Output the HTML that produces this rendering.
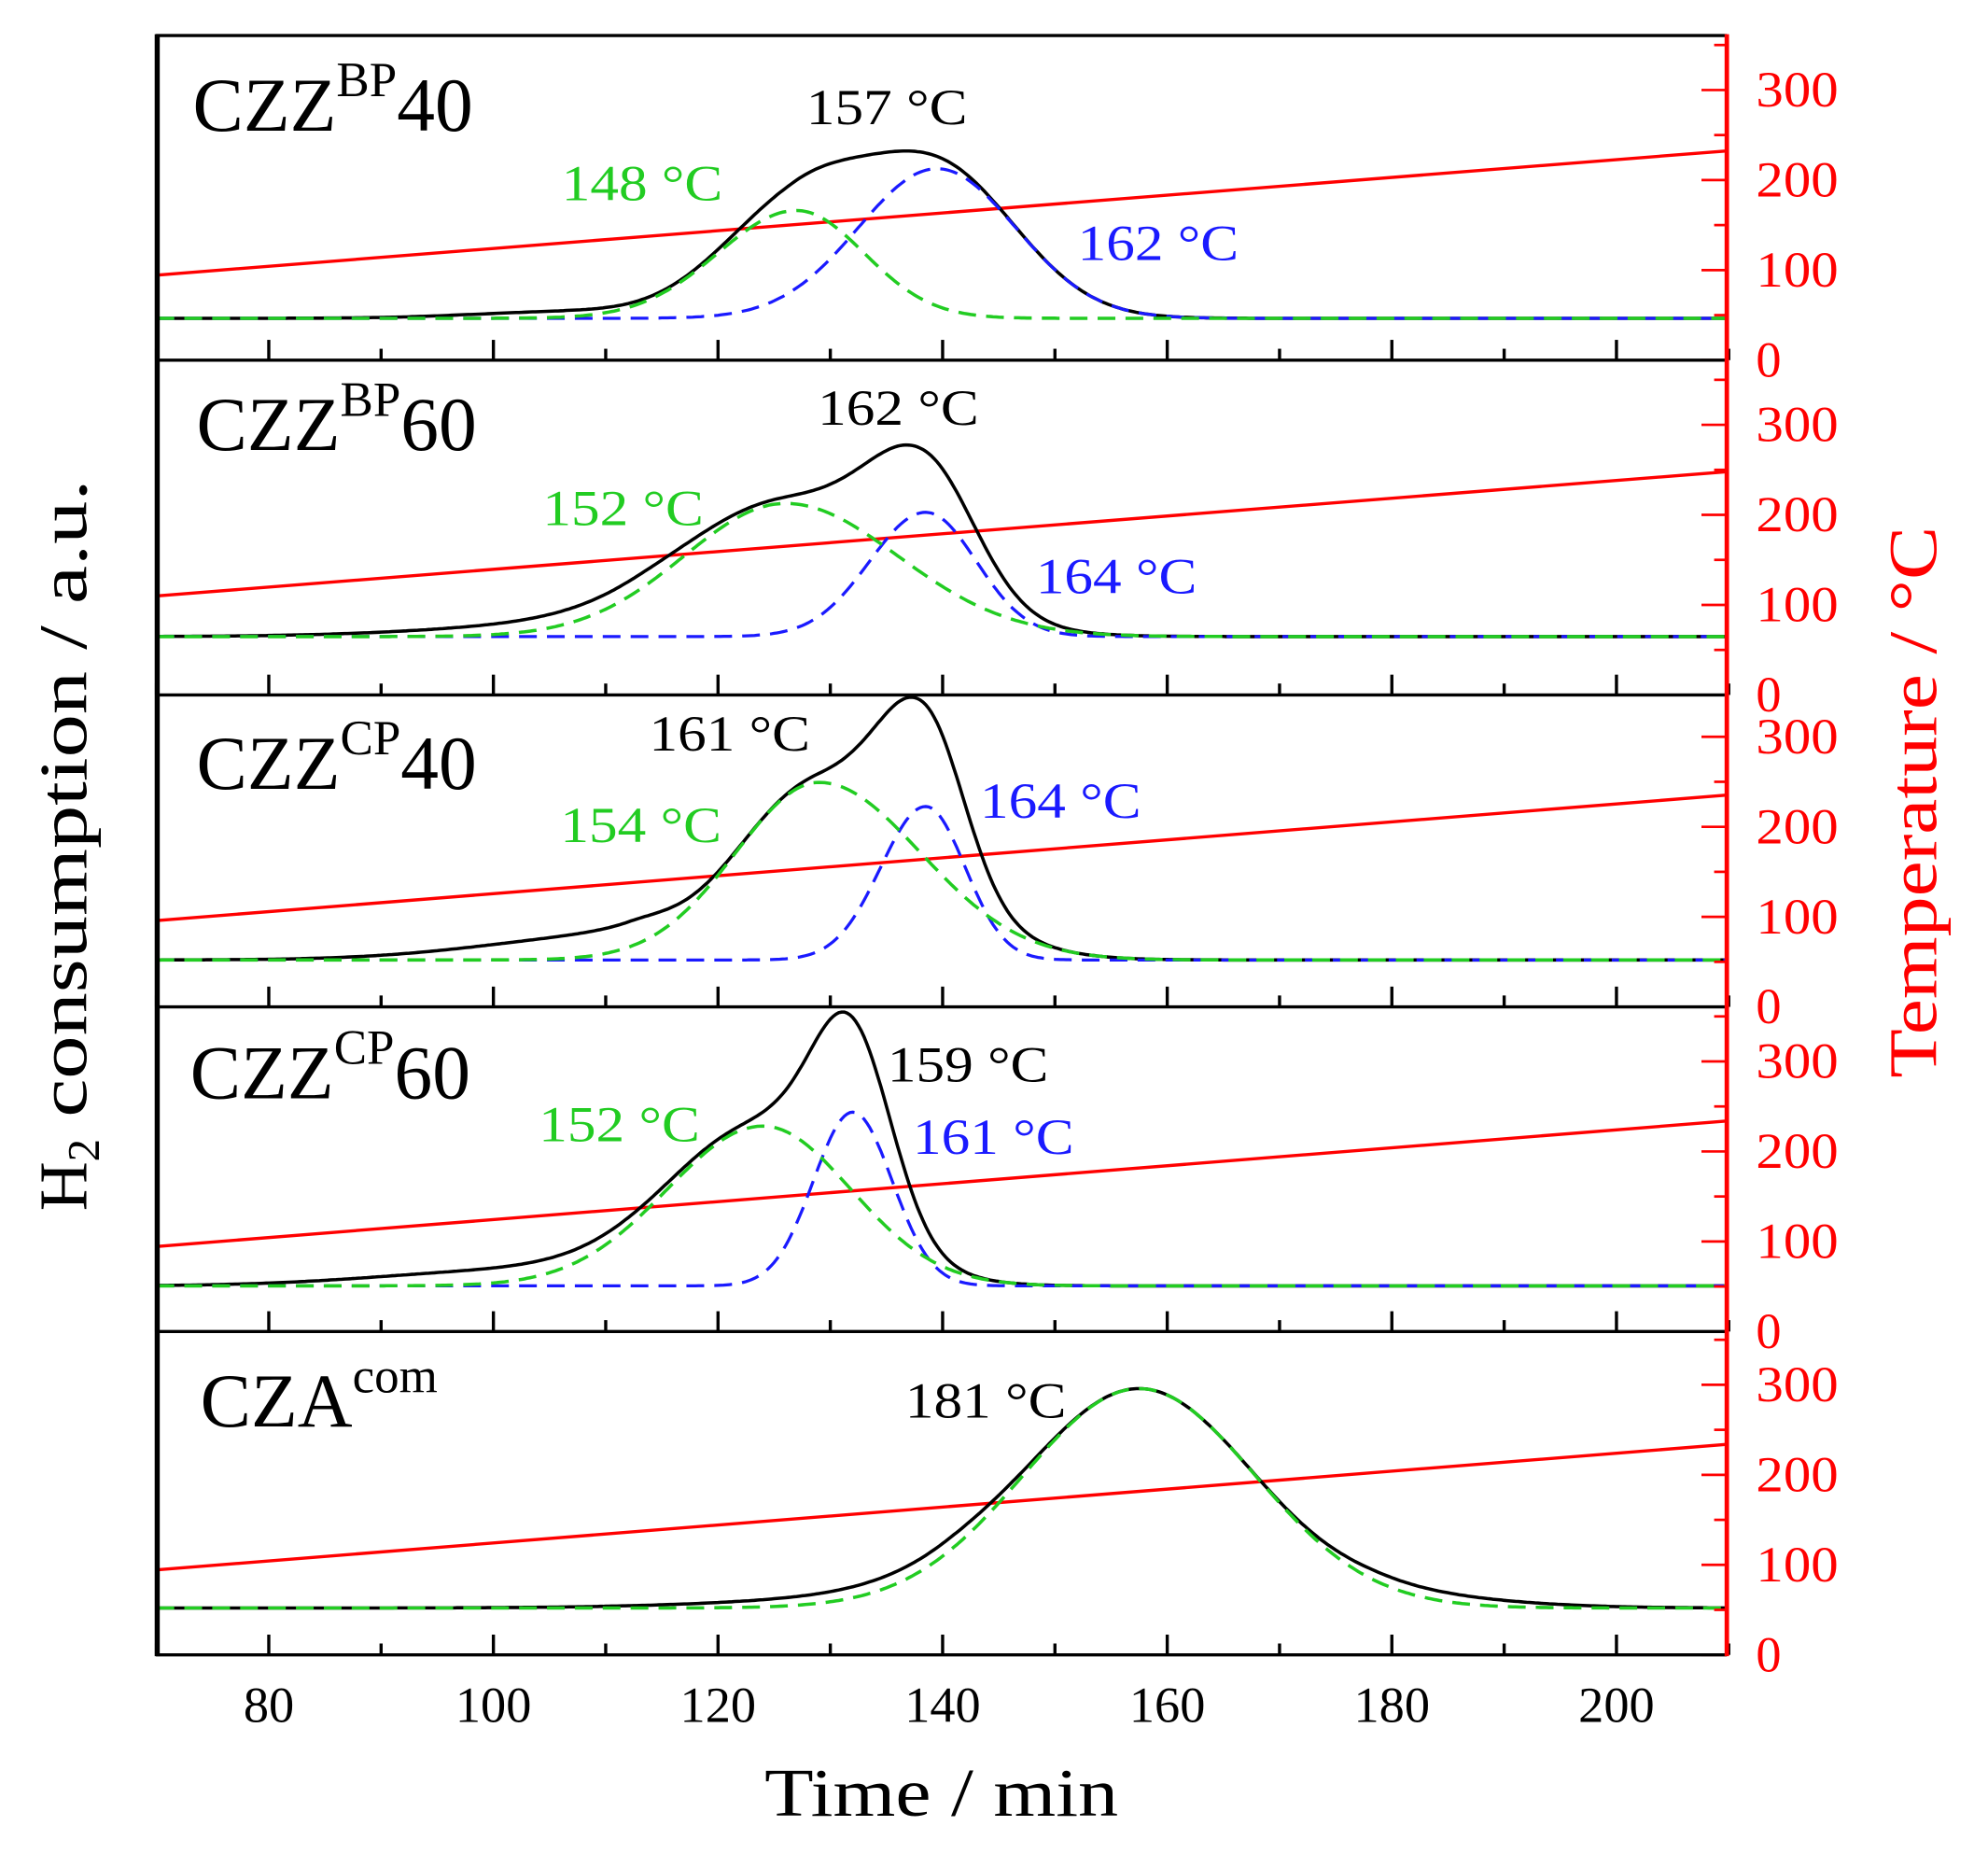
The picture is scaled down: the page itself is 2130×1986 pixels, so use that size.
<!DOCTYPE html>
<html><head><meta charset="utf-8"><style>
html,body{margin:0;padding:0;background:#fff;}
svg{display:block;}
text{font-family:"Liberation Serif","DejaVu Serif",serif;}
</style></head><body>
<svg id="s" xmlns="http://www.w3.org/2000/svg" width="2130" height="1986" viewBox="0 0 1568 1462" preserveAspectRatio="none">
<rect width="1568" height="1462" fill="#fff"/>
<g id="curves"></g>
<g id="axes"></g>
<g font-size="60" fill="#000">
<text x="152" y="103">CZZ<tspan font-size="39" dy="-27">BP</tspan><tspan dy="27">40</tspan></text>
<text x="155" y="355">CZZ<tspan font-size="39" dy="-27">BP</tspan><tspan dy="27">60</tspan></text>
<text x="155" y="622">CZZ<tspan font-size="39" dy="-27">CP</tspan><tspan dy="27">40</tspan></text>
<text x="150" y="866">CZZ<tspan font-size="39" dy="-27">CP</tspan><tspan dy="27">60</tspan></text>
<text x="158" y="1125">CZA<tspan font-size="39" dy="-27">com</tspan></text>
</g>
<g font-size="40">
<text x="636" y="98" fill="#000" textLength="127" lengthAdjust="spacingAndGlyphs">157 °C</text>
<text x="443" y="158" fill="#22cc22" textLength="127" lengthAdjust="spacingAndGlyphs">148 °C</text>
<text x="850" y="205" fill="#1a1aff" textLength="127" lengthAdjust="spacingAndGlyphs">162 °C</text>
<text x="645" y="335" fill="#000" textLength="127" lengthAdjust="spacingAndGlyphs">162 °C</text>
<text x="428" y="414" fill="#22cc22" textLength="127" lengthAdjust="spacingAndGlyphs">152 °C</text>
<text x="817" y="468" fill="#1a1aff" textLength="127" lengthAdjust="spacingAndGlyphs">164 °C</text>
<text x="512" y="592" fill="#000" textLength="127" lengthAdjust="spacingAndGlyphs">161 °C</text>
<text x="442" y="664" fill="#22cc22" textLength="127" lengthAdjust="spacingAndGlyphs">154 °C</text>
<text x="773" y="645" fill="#1a1aff" textLength="127" lengthAdjust="spacingAndGlyphs">164 °C</text>
<text x="700" y="853" fill="#000" textLength="127" lengthAdjust="spacingAndGlyphs">159 °C</text>
<text x="425" y="900" fill="#22cc22" textLength="127" lengthAdjust="spacingAndGlyphs">152 °C</text>
<text x="720" y="910" fill="#1a1aff" textLength="127" lengthAdjust="spacingAndGlyphs">161 °C</text>
<text x="714" y="1118" fill="#000" textLength="127" lengthAdjust="spacingAndGlyphs">181 °C</text>
</g>
<g id="labels" font-size="40"></g>
<text x="603" y="1432" font-size="54" textLength="279" lengthAdjust="spacingAndGlyphs">Time / min</text>
<text transform="translate(68,955) rotate(-90)" font-size="54">H<tspan font-size="36" dy="10">2</tspan><tspan dy="-10" textLength="520" lengthAdjust="spacingAndGlyphs"> consumption / a.u.</tspan></text>
<text transform="translate(1527,850) rotate(-90)" font-size="54" fill="#ff0000" textLength="435" lengthAdjust="spacingAndGlyphs">Temperature / °C</text>
</svg>
<script>
var NS="http://www.w3.org/2000/svg";
function X(t){return 212+(t-80)*8.858;}
function G(t,p){var mu=p[0],a=p[1],s=t<mu?p[2]:p[3];var z=(t-mu)/s;return a*Math.exp(-z*z/2);}
var panels=[
 {top:28,bot:284,base:251,g:[[127,85,7,6]],b:[139.5,118,7,7],tail:[[106,5,8,6]],r:[217,119]},
 {top:284,bot:548,base:502,g:[[126,105,9,10]],b:[138.5,98,5,4.5],tail:[[112,12,14,6]],r:[470,372]},
 {top:548,bot:794,base:757,g:[[129,140,7.4,9]],b:[138.5,121,4,3.5],tail:[[112,20,12,4]],r:[726,627]},
 {top:794,bot:1050,base:1014,g:[[124,126,8.5,7.8]],b:[132,137,3.5,3.5],tail:[[102,12,12,10]],r:[983,884]},
 {top:1050,bot:1305,base:1268,g:[[157.5,173,10.3,10.3]],b:null,tail:[[140,10,15,5],[180,8,5,10]],r:[1238,1139]}
];
var cg=document.getElementById('curves'),ax=document.getElementById('axes'),lb=document.getElementById('labels');
function el(par,tag,at){var e=document.createElementNS(NS,tag);for(var k in at)e.setAttribute(k,at[k]);par.appendChild(e);return e;}
panels.forEach(function(P){
 el(cg,'line',{x1:123,y1:P.r[0],x2:1362,y2:P.r[1],stroke:'#ff0000','stroke-width':2.5});
 var dg='',db='',dk='';
 for(var t=70;t<=210.01;t+=0.25){
  var gv=0;P.g.forEach(function(q){gv+=G(t,q);});
  var bv=P.b?G(t,P.b):0;var tv=0;P.tail.forEach(function(q){tv+=G(t,q);});
  var x=X(t).toFixed(1);
  var c=(t==70?'M':'L');
  dg+=c+x+' '+(P.base-gv).toFixed(1);
  db+=c+x+' '+(P.base-bv).toFixed(1);
  dk+=c+x+' '+(P.base-gv-bv-tv).toFixed(1);
 }
 el(cg,'path',{d:dk,fill:'none',stroke:'#000','stroke-width':2.6});
 if(P.b) el(cg,'path',{d:db,fill:'none',stroke:'#1a1aff','stroke-width':2.4,'stroke-dasharray':'14 8'});
 el(cg,'path',{d:dg,fill:'none',stroke:'#22cc22','stroke-width':2.6,'stroke-dasharray':'14 8'});
 for(var t=70;t<=210;t+=10){var L=(t%20==0)?16:9;el(ax,'line',{x1:X(t),y1:P.bot,x2:X(t),y2:P.bot-L,stroke:'#000','stroke-width':2.5});}
 for(var v=0;v<=350;v+=50){var y=P.bot-v*0.71;if(y<P.top+2)continue;var L=(v%100==0)?20:10;el(ax,'line',{x1:1362,y1:y,x2:1362-L,y2:y,stroke:'#ff0000','stroke-width':2});}
 [0,100,200,300].forEach(function(v){var y=P.bot-v*0.71;var tx=el(lb,'text',{x:1385,y:y+13,fill:'#ff0000'});if(v>0){tx.setAttribute('textLength','65');tx.setAttribute('lengthAdjust','spacingAndGlyphs');}tx.textContent=v;});
 el(ax,'line',{x1:123,y1:P.bot,x2:1362,y2:P.bot,stroke:'#000','stroke-width':2.5});
});
el(ax,'line',{x1:123,y1:28,x2:1362,y2:28,stroke:'#000','stroke-width':2.5});
el(ax,'line',{x1:124,y1:27,x2:124,y2:1306,stroke:'#000','stroke-width':4});
el(ax,'line',{x1:1362,y1:27,x2:1362,y2:1306,stroke:'#ff0000','stroke-width':3.5});
[80,100,120,140,160,180,200].forEach(function(t){var tx=el(lb,'text',{x:X(t),y:1358,'text-anchor':'middle',fill:'#000'});tx.textContent=t;});
</script>
</body></html>
